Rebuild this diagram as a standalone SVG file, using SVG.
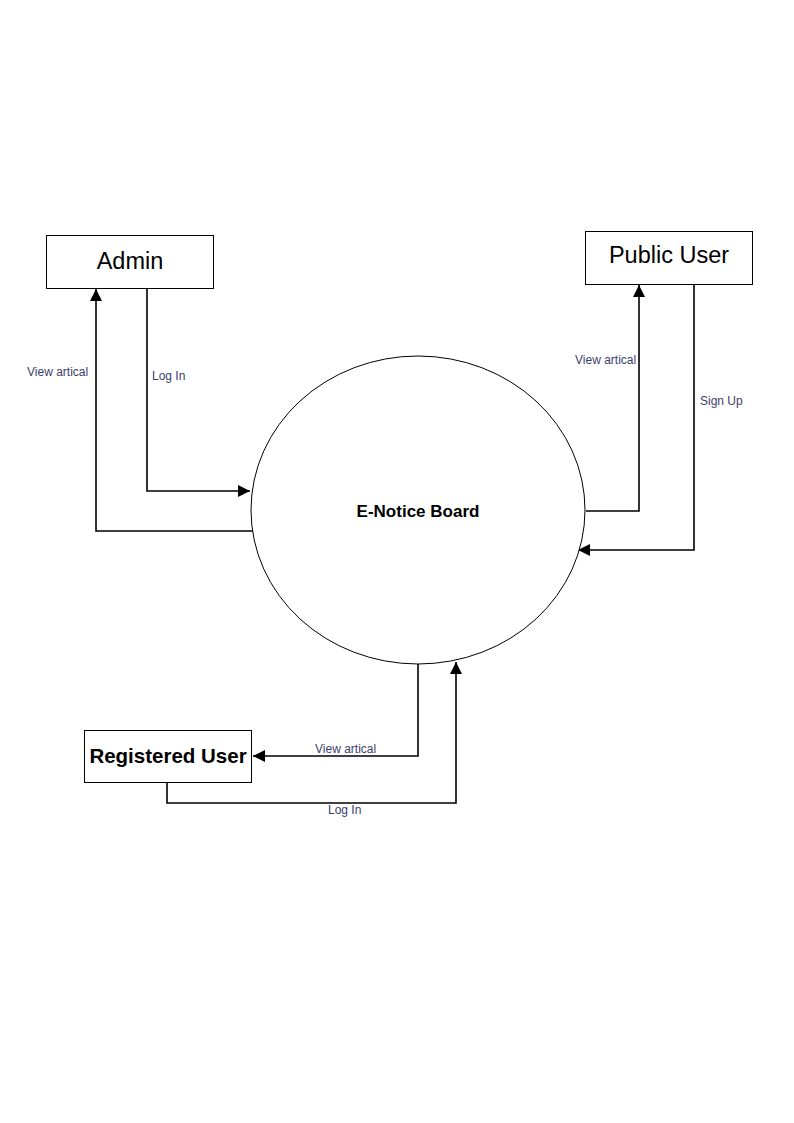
<svg xmlns="http://www.w3.org/2000/svg" width="794" height="1123" viewBox="0 0 794 1123">
<style>
.box{fill:#fff;stroke:#000;stroke-width:1}
.conn{fill:none;stroke:#000;stroke-width:1.6}
.lbl{font-family:"Liberation Sans",Arial,sans-serif;font-size:12px;fill:#3c3c6c}
.big{font-family:"Liberation Sans",Arial,sans-serif;font-size:23.5px;fill:#000;text-anchor:middle}
</style>
<defs>
<marker id="arr" viewBox="0 0 10 10" refX="10" refY="5" markerWidth="18" markerHeight="12" markerUnits="userSpaceOnUse" orient="auto">
<path d="M0,0 L10,5 L0,10 Z" fill="#000"/>
</marker>
</defs>
<rect width="794" height="1123" fill="#fff"/>
<g id="connectors">
<path class="conn" d="M255,531 H96 V289" marker-end="url(#arr)"/>
<path class="conn" d="M147,288 V491 H250" marker-end="url(#arr)"/>
<path class="conn" d="M586,511 H639 V285" marker-end="url(#arr)"/>
<path class="conn" d="M694,284 V550 H578" marker-end="url(#arr)"/>
<path class="conn" d="M418,664 V756 H253" marker-end="url(#arr)"/>
<path class="conn" d="M167,782 V803 H456 V662" marker-end="url(#arr)"/>
<text class="lbl" x="27" y="376">View artical</text>
<text class="lbl" x="152" y="380">Log In</text>
<text class="lbl" x="575" y="364">View artical</text>
<text class="lbl" x="700" y="405">Sign Up</text>
<text class="lbl" x="315" y="753">View artical</text>
<text class="lbl" x="328" y="814">Log In</text>
</g>
<g id="enoticeboard">
<ellipse cx="418" cy="510" rx="167" ry="154" fill="#fff" stroke="#000" stroke-width="1"/>
<text x="418" y="517" font-family="Liberation Sans,Arial,sans-serif" font-size="17" font-weight="bold" text-anchor="middle">E-Notice Board</text>
</g>
<g id="admin">
<rect class="box" x="46.5" y="235.5" width="167" height="53"/>
<text class="big" x="130" y="269">Admin</text>
</g>
<g id="publicuser">
<rect class="box" x="585.5" y="231.5" width="167" height="53"/>
<text class="big" x="669" y="263">Public User</text>
</g>
<g id="registereduser">
<rect class="box" x="84.5" y="730.5" width="167" height="52"/>
<text x="168" y="763" font-family="Liberation Sans,Arial,sans-serif" font-size="20.5" font-weight="bold" text-anchor="middle">Registered User</text>
</g>
</svg>
